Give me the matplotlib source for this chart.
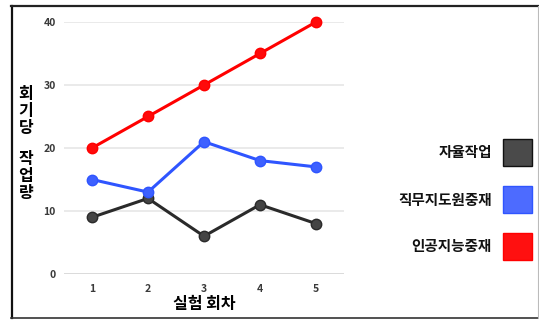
import matplotlib.pyplot as plt
from matplotlib.patches import Rectangle
from matplotlib.lines import Line2D

plt.rcParams['font.family'] = ['Noto Sans CJK KR', 'DejaVu Sans']

sessions = [1, 2, 3, 4, 5]
autonomous = [9, 12, 6, 11, 8]
job_coach = [15, 13, 21, 18, 17]
ai_support = [20, 25, 30, 35, 40]
series_names = ['자율작업', '직무지도원중재', '인공지능중재']
y_ticks = [0, 10, 20, 30, 40]

fig = plt.figure(figsize=(5.39, 3.2), dpi=100)
W, H = 539.0, 320.0

# figure border
fig.add_artist(Line2D([12 / W, 12 / W], [2 / H, 314 / H], color='#111111', lw=1.6))
fig.add_artist(Line2D([11 / W, 538 / W], [314 / H, 314 / H], color='#222222', lw=1.6))
fig.add_artist(Line2D([11 / W, 538 / W], [2 / H, 2 / H], color='#333333', lw=1.2))
fig.add_artist(Line2D([537.5 / W, 537.5 / W], [2 / H, 314 / H], color='#bbbbbb', lw=0.8))

ax = fig.add_axes([64 / W, (H - 274) / H, 280 / W, 252 / H])
ax.set_xlim(0.5, 5.5)
ax.set_ylim(0, 40)
for s in ax.spines.values():
    s.set_visible(False)
ax.set_yticks(y_ticks)
ax.set_xticks(sessions)
ax.tick_params(length=0, labelsize=7.5, colors='#3a3a3a')
ax.tick_params(axis='y', pad=6)
ax.tick_params(axis='x', pad=7)
for t in ax.get_xticklabels() + ax.get_yticklabels():
    t.set_fontweight('bold')
for v in y_ticks:
    ax.axhline(v, color='#d8d8d8' if v == 0 else '#e8e8e8', lw=1.3, zorder=0)

colors = ['#2a2a2a', '#2f55ff', '#ff0000']
mcolors = ['#444444', '#3d60ff', '#ff0a0a']
for vals, c, mc in zip([autonomous, job_coach, ai_support], colors, mcolors):
    ax.plot(sessions, vals, color=c, lw=2.2, marker='o', ms=7.5,
            markerfacecolor=mc, markeredgecolor=c, clip_on=False, zorder=3)

ax.set_xlabel('실험 회차', fontsize=11.5, fontweight='bold', labelpad=2)

# stacked y label
fig.text(26 / W, (H - 111) / H, '회\n기\n당', ha='center', va='center',
         fontsize=11.5, fontweight='bold', linespacing=1.1)
fig.text(26 / W, (H - 176) / H, '작\n업\n량', ha='center', va='center',
         fontsize=11.5, fontweight='bold', linespacing=1.1)

# legend on the right
sq_fill = ['#4a4a4a', '#4d6bff', '#ff1010']
sq_edge = ['#111111', '#2f55ff', '#ff0000']
centers = [152.5, 199.5, 246.5]
for name, fc, ec, cy in zip(series_names, sq_fill, sq_edge, centers):
    fig.add_artist(Rectangle((503 / W, (H - cy - 13.5) / H), 29 / W, 27 / H,
                             facecolor=fc, edgecolor=ec, lw=1.0))
    fig.text(492 / W, (H - cy) / H, name, ha='right', va='center',
             fontsize=10.5, fontweight='bold', color='#111111')

fig.savefig('out.png', dpi=100)
